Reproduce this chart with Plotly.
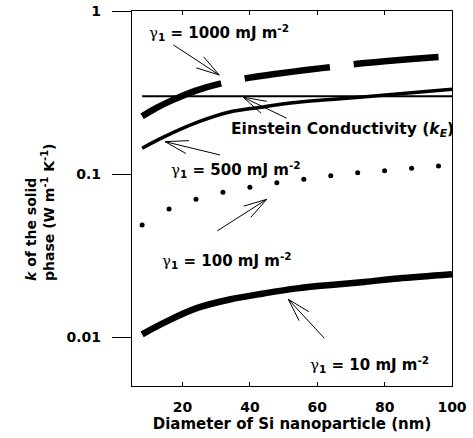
import math
import plotly.graph_objects as go

# ---- data ----
d_1000 = [8, 12, 17, 24, 32, 40, 48, 56, 64, 72, 80, 88, 96]
k_1000 = [0.226, 0.253, 0.284, 0.325, 0.362, 0.390, 0.412, 0.433, 0.453, 0.475, 0.492, 0.507, 0.522]

d_500 = [8, 14.5, 24.5, 34, 44, 52, 64, 76, 88, 100]
k_500 = [0.144, 0.169, 0.208, 0.240, 0.258, 0.273, 0.287, 0.300, 0.315, 0.331]

d_100 = [8, 16, 24, 32, 40, 48, 56, 64, 72, 80, 88, 96]
k_100 = [0.0487, 0.0610, 0.0700, 0.0772, 0.0829, 0.0885, 0.0928, 0.0977, 0.1019, 0.1048, 0.1084, 0.112]

d_10 = [8, 15, 24, 34, 44, 54, 64, 74, 84, 100]
k_10 = [0.0104, 0.0124, 0.0150, 0.0170, 0.0185, 0.0199, 0.0209, 0.0218, 0.0229, 0.0243]

d_E = [8, 100]
k_E = [0.30, 0.30]

x_ticks = [20, 40, 60, 80, 100]
y_ticks = [0.01, 0.1, 1]
y_ticktext = ["0.01", "0.1", "1"]

X_RANGE = [5, 100]
Y_RANGE = [-2.3, 0]  # log10

W, H = 473, 438
ML, MR, MT, MB = 132, 21, 11, 52
PW, PH = W - ML - MR, H - MT - MB

def to_paper(d, k):
    px = (d - X_RANGE[0]) / (X_RANGE[1] - X_RANGE[0])
    py = (math.log10(k) - Y_RANGE[0]) / (Y_RANGE[1] - Y_RANGE[0])
    return px, py

GAM = "<span style=\"font-family:'DejaVu Serif';font-weight:normal\">γ</span><sub>1</sub>"

labels = [
    (GAM + " = 1000 mJ m<sup>-2</sup>", 30.7, 0.733, 15),
    ("Einstein Conductivity (<i>k</i><sub><i>E</i></sub>)", 67.4, 0.186, 15.5),
    (GAM + " = 500 mJ m<sup>-2</sup>", 36.0, 0.106, 15),
    (GAM + " = 100 mJ m<sup>-2</sup>", 33.1, 0.0293, 15),
    (GAM + " = 10 mJ m<sup>-2</sup>", 75.4, 0.0068, 15),
]

# arrows: (tip d, tip k, tail d, tail k)
arrows = [
    (30.9, 0.405, 17.3, 0.619),
    (38.0, 0.296, 50.9, 0.220),
    (14.8, 0.158, 31.1, 0.131),
    (45.0, 0.070, 30.3, 0.0448),
    (51.4, 0.01706, 62.1, 0.00984),
]

fig = go.Figure()
fig.add_trace(go.Scatter(x=d_1000, y=k_1000, mode="lines",
                         line=dict(color="black", width=6.5, dash="86px,24px", shape="spline")))
fig.add_trace(go.Scatter(x=d_E, y=k_E, mode="lines", line=dict(color="black", width=2)))
fig.add_trace(go.Scatter(x=d_500, y=k_500, mode="lines",
                         line=dict(color="black", width=3.5, shape="spline")))
fig.add_trace(go.Scatter(x=d_100, y=k_100, mode="markers",
                         marker=dict(color="black", size=5)))
fig.add_trace(go.Scatter(x=d_10, y=k_10, mode="lines",
                         line=dict(color="black", width=6.5, shape="spline")))

annotations = []
for txt, d, k, fs in labels:
    px, py = to_paper(d, k)
    annotations.append(dict(text=txt, x=px, y=py, xref="paper", yref="paper",
                            showarrow=False, xanchor="center", yanchor="middle",
                            font=dict(size=fs, color="black")))

annotations.append(dict(
    text="<i>k</i> of the solid<br>phase (W m<sup>-1</sup> K<sup>-1</sup>)",
    x=(40 - ML) / PW, y=1 - (213 - MT) / PH, xref="paper", yref="paper",
    showarrow=False, textangle=-90, align="left", xanchor="center", yanchor="middle",
    font=dict(size=14, color="black")))

shapes = []
BARB = 24
ANG = math.radians(16)
for td, tk, sd, sk in arrows:
    tx, ty = to_paper(td, tk)
    sx, sy = to_paper(sd, sk)
    tpx, tpy = tx * PW, ty * PH
    spx, spy = sx * PW, sy * PH
    shapes.append(dict(type="line", xref="paper", yref="paper", x0=sx, y0=sy, x1=tx, y1=ty,
                       line=dict(color="black", width=1)))
    vx, vy = spx - tpx, spy - tpy
    n = math.hypot(vx, vy)
    ux, uy = vx / n, vy / n
    for a in (ANG, -ANG):
        rx = ux * math.cos(a) - uy * math.sin(a)
        ry = ux * math.sin(a) + uy * math.cos(a)
        bx, by = tpx + BARB * rx, tpy + BARB * ry
        shapes.append(dict(type="line", xref="paper", yref="paper",
                           x0=tx, y0=ty, x1=bx / PW, y1=by / PH,
                           line=dict(color="black", width=1)))

fig.update_layout(
    template="none",
    width=W, height=H,
    margin=dict(l=ML, r=MR, t=MT, b=MB, autoexpand=False),
    paper_bgcolor="white", plot_bgcolor="white",
    showlegend=False,
    font=dict(family="DejaVu Sans", weight="bold", color="black", size=15),
    annotations=annotations,
    shapes=shapes,
    xaxis=dict(range=X_RANGE, tickvals=x_ticks, ticks="inside", ticklen=4, tickwidth=1,
               tickcolor="black", mirror="ticks", showline=True, linecolor="black", linewidth=1.3,
               showgrid=False, zeroline=False, automargin=False,
               tickfont=dict(size=14), ticklabelstandoff=8,
               title=dict(text="Diameter of Si nanoparticle (nm)", font=dict(size=15), standoff=0)),
    yaxis=dict(type="log", range=Y_RANGE, tickvals=y_ticks, ticktext=y_ticktext,
               ticks="outside", ticklen=19, tickwidth=1, tickcolor="black", mirror=True,
               showline=True, linecolor="black", linewidth=1.3, showgrid=False, zeroline=False,
               automargin=False, tickfont=dict(size=14), ticklabelstandoff=8),
)

fig.write_html("out.html", config={"displayModeBar": False},
               post_script="document.body.style.margin='0';document.body.style.overflow='hidden';")
